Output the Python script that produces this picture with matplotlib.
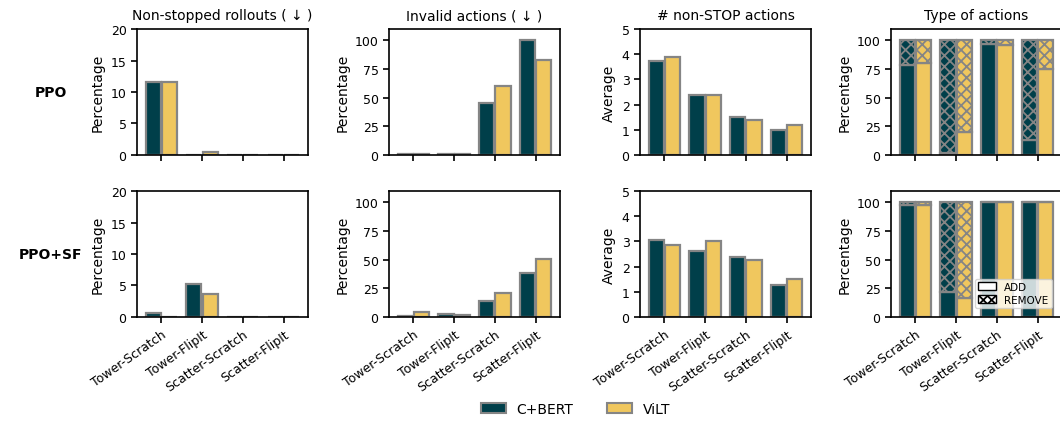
import numpy as np
import matplotlib
matplotlib.use("Agg")
import matplotlib.pyplot as plt
from matplotlib.patches import Patch

# Data
tasks = ["Tower-Scratch", "Tower-FlipIt", "Scatter-Scratch", "Scatter-FlipIt"]
models = ["C+BERT", "ViLT"]
rows = ["PPO", "PPO+SF"]

nonstop_bert = {"PPO": [11.6, 0.0, 0.0, 0.0], "PPO+SF": [0.6, 5.3, 0.0, 0.0]}
nonstop_vilt = {"PPO": [11.6, 0.5, 0.0, 0.0], "PPO+SF": [0.0, 3.7, 0.0, 0.0]}

invalid_bert = {"PPO": [0.5, 0.5, 45.0, 100.0], "PPO+SF": [0.5, 2.5, 14.0, 38.5]}
invalid_vilt = {"PPO": [1.2, 0.5, 60.0, 83.0], "PPO+SF": [4.0, 1.5, 21.0, 51.0]}

nstop_bert = {"PPO": [3.75, 2.40, 1.50, 1.00], "PPO+SF": [3.05, 2.62, 2.38, 1.28]}
nstop_vilt = {"PPO": [3.87, 2.38, 1.38, 1.20], "PPO+SF": [2.87, 3.00, 2.25, 1.50]}

add_bert = {"PPO": [79.0, 2.0, 97.0, 13.0], "PPO+SF": [98.0, 22.0, 100.0, 100.0]}
add_vilt = {"PPO": [80.0, 20.0, 96.0, 75.0], "PPO+SF": [98.0, 17.0, 100.0, 100.0]}

# Style
c_bert = "#003f4a"
c_vilt = "#f0c75e"
edge = "#858585"
width = 0.37
off = 0.2

plt.rcParams["font.family"] = "DejaVu Sans"
plt.rcParams["hatch.linewidth"] = 1.3

fig = plt.figure(figsize=(10.6, 4.27), dpi=100)

lefts = [0.1292, 0.367, 0.6038, 0.8406]
bottoms = [0.6347, 0.2553]
w, h = 0.1613, 0.295

titles = ["Non-stopped rollouts ( ↓ )", "Invalid actions ( ↓ )",
          "# non-STOP actions", "Type of actions"]
ylabels = ["Percentage", "Percentage", "Average", "Percentage"]
ylims = [(0, 20), (0, 110), (0, 5), (0, 110)]
yticks = [[0, 5, 10, 15, 20], [0, 25, 50, 75, 100], [0, 1, 2, 3, 4, 5], [0, 25, 50, 75, 100]]

x = np.arange(len(tasks))
for r, row in enumerate(rows):
    for c in range(4):
        ax = fig.add_axes([lefts[c], bottoms[r], w, h])
        if c == 0:
            b, v = nonstop_bert[row], nonstop_vilt[row]
        elif c == 1:
            b, v = invalid_bert[row], invalid_vilt[row]
        elif c == 2:
            b, v = nstop_bert[row], nstop_vilt[row]
        if c < 3:
            ax.bar(x - off, b, width, color=c_bert, edgecolor=edge, linewidth=1.6)
            ax.bar(x + off, v, width, color=c_vilt, edgecolor=edge, linewidth=1.6)
        else:
            ab = np.array(add_bert[row])
            av = np.array(add_vilt[row])
            ax.bar(x - off, ab, width, color=c_bert, edgecolor=edge, linewidth=1.6)
            ax.bar(x - off, 100 - ab, width, bottom=ab, color=c_bert,
                   edgecolor=edge, linewidth=1.6, hatch="xxx")
            ax.bar(x + off, av, width, color=c_vilt, edgecolor=edge, linewidth=1.6)
            ax.bar(x + off, 100 - av, width, bottom=av, color=c_vilt,
                   edgecolor=edge, linewidth=1.6, hatch="xxx")
            if r == 1:
                ax.legend(handles=[Patch(facecolor="white", edgecolor="black", label="ADD"),
                                   Patch(facecolor="white", edgecolor="black", hatch="xxxx",
                                         label="REMOVE")],
                          loc="lower right", fontsize=7.5, handlelength=1.7,
                          handleheight=0.8, borderpad=0.3, labelspacing=0.3,
                          bbox_to_anchor=(0.97, 0.03))
        ax.set_xlim(-0.6, 3.6)
        ax.set_ylim(*ylims[c])
        ax.set_yticks(yticks[c])
        ax.set_ylabel(ylabels[c], fontsize=10)
        ax.tick_params(axis="both", labelsize=9, length=4, width=1.2)
        ax.set_xticks(x)
        if r == 1:
            ax.set_xticklabels(tasks, rotation=35, ha="right", rotation_mode="anchor")
        else:
            ax.set_xticklabels([])
            ax.set_title(titles[c], fontsize=10, pad=7)
        for s in ax.spines.values():
            s.set_linewidth(1.2)

fig.text(0.048, bottoms[0] + h / 2, "PPO", fontsize=10, fontweight="bold",
         ha="center", va="center")
fig.text(0.048, bottoms[1] + h / 2, "PPO+SF", fontsize=10, fontweight="bold",
         ha="center", va="center")

handles = [Patch(facecolor=c_bert, edgecolor=edge, linewidth=1.5, label=models[0]),
           Patch(facecolor=c_vilt, edgecolor=edge, linewidth=1.5, label=models[1])]
fig.legend(handles=handles, loc="lower center", bbox_to_anchor=(0.543, -0.005),
           ncol=2, frameon=False, fontsize=10, columnspacing=2.4, handlelength=1.8)

fig.savefig("out.png", dpi=100)
